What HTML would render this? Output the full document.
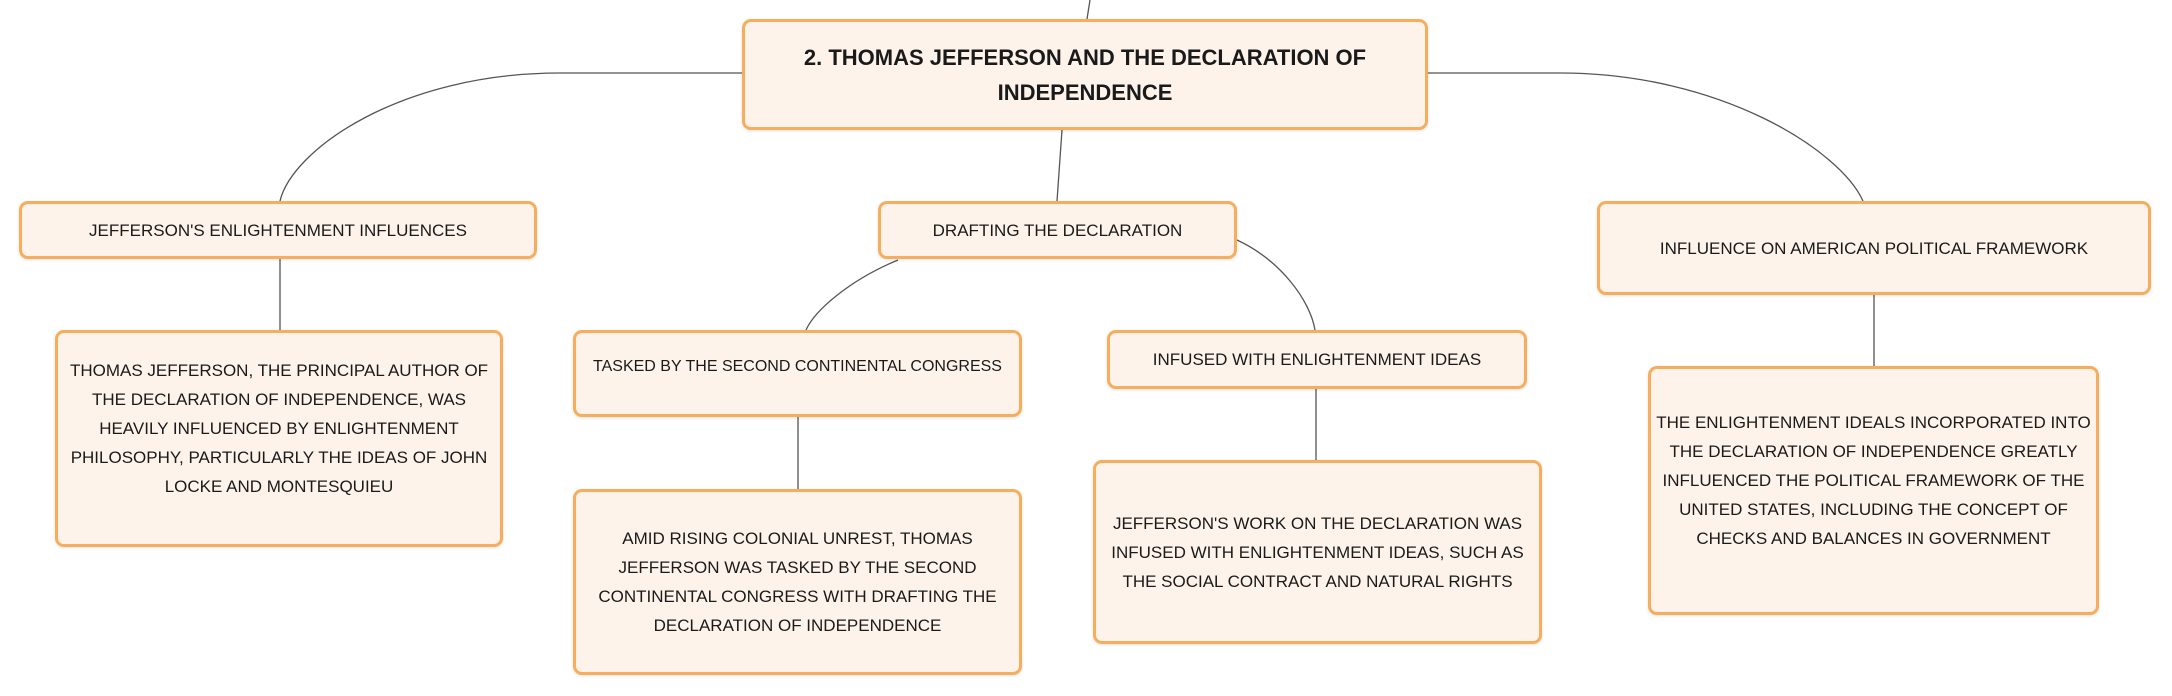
<!DOCTYPE html>
<html><head><meta charset="utf-8"><style>
html,body{margin:0;padding:0;background:#fff;}
body{width:2172px;height:696px;position:relative;overflow:hidden;font-family:"Liberation Sans",sans-serif;}
.b{position:absolute;box-sizing:border-box;background:#fdf3ea;border:3px solid #f6ad5c;border-radius:9px;display:flex;align-items:center;justify-content:center;text-align:center;color:#1a1a1a;font-size:17px;line-height:29px;box-shadow:0 1px 3px rgba(0,0,0,0.12);padding:0 6px;}
.t{font-weight:bold;font-size:22px;line-height:35px;padding:0 30px;}
svg{position:absolute;left:0;top:0;}
</style></head><body>
<svg width="2172" height="696" fill="none" stroke="#555" stroke-width="1.3">
<path d="M1090,0 L1087,19"/>
<path d="M742,73 L560,73 C400,73 292,150 280,201"/>
<path d="M1062,130 L1057,201"/>
<path d="M1428,73 L1560,73 C1720,73 1840,150 1863,201"/>
<path d="M280,259 L280,330"/>
<path d="M898,260 C850,280 815,310 806,330"/>
<path d="M1237,240 C1280,260 1310,300 1315,330"/>
<path d="M798,417 L798,489"/>
<path d="M1316,389 L1316,460"/>
<path d="M1874,295 L1874,366"/>
</svg>
<div class="b t" style="left:742px;top:19px;width:686px;height:111px;">2. THOMAS JEFFERSON AND THE DECLARATION OF INDEPENDENCE</div>
<div class="b" style="left:19px;top:201px;width:518px;height:58px;">JEFFERSON'S ENLIGHTENMENT INFLUENCES</div>
<div class="b" style="left:878px;top:201px;width:359px;height:58px;">DRAFTING THE DECLARATION</div>
<div class="b" style="left:1597px;top:201px;width:554px;height:94px;">INFLUENCE ON AMERICAN POLITICAL FRAMEWORK</div>
<div class="b" style="left:55px;top:330px;width:448px;height:217px;padding:0 10px 20px;">THOMAS JEFFERSON, THE PRINCIPAL AUTHOR OF THE DECLARATION OF INDEPENDENCE, WAS HEAVILY INFLUENCED BY ENLIGHTENMENT PHILOSOPHY, PARTICULARLY THE IDEAS OF JOHN LOCKE AND MONTESQUIEU</div>
<div class="b" style="left:573px;top:330px;width:449px;height:87px;padding:0 2px 14px;font-size:16px;white-space:nowrap;">TASKED BY THE SECOND CONTINENTAL CONGRESS</div>
<div class="b" style="left:573px;top:489px;width:449px;height:186px;padding:0 20px;">AMID RISING COLONIAL UNREST, THOMAS JEFFERSON WAS TASKED BY THE SECOND CONTINENTAL CONGRESS WITH DRAFTING THE DECLARATION OF INDEPENDENCE</div>
<div class="b" style="left:1107px;top:330px;width:420px;height:59px;">INFUSED WITH ENLIGHTENMENT IDEAS</div>
<div class="b" style="left:1093px;top:460px;width:449px;height:184px;padding:0 8px;">JEFFERSON'S WORK ON THE DECLARATION WAS INFUSED WITH ENLIGHTENMENT IDEAS, SUCH AS THE SOCIAL CONTRACT AND NATURAL RIGHTS</div>
<div class="b" style="left:1648px;top:366px;width:451px;height:249px;padding:0 4px 20px;">THE ENLIGHTENMENT IDEALS INCORPORATED INTO THE DECLARATION OF INDEPENDENCE GREATLY INFLUENCED THE POLITICAL FRAMEWORK OF THE UNITED STATES, INCLUDING THE CONCEPT OF CHECKS AND BALANCES IN GOVERNMENT</div>
</body></html>
